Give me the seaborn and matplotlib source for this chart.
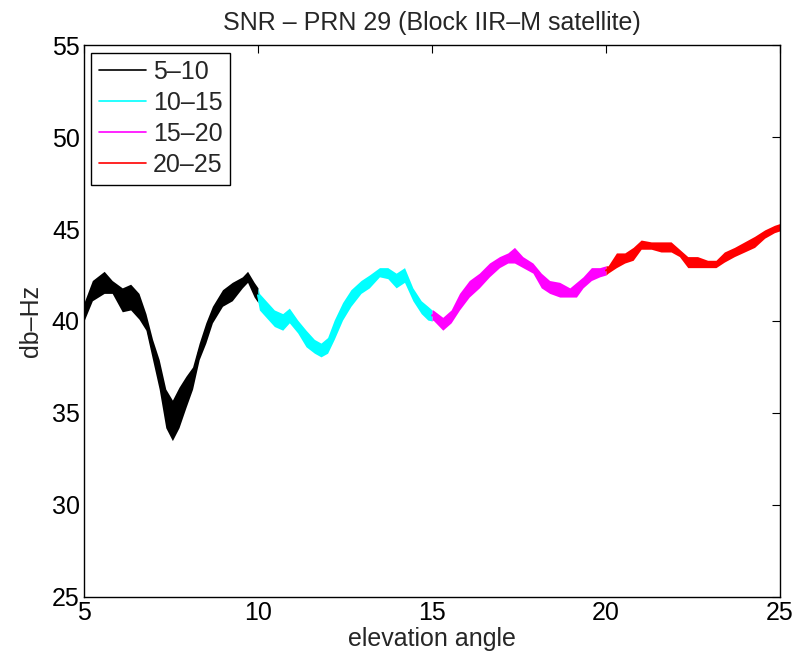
import pandas as pd
import matplotlib
matplotlib.use('Agg')
import matplotlib.pyplot as plt
from matplotlib.lines import Line2D
import seaborn as sns

# SNR envelopes (lower / upper edge of the noisy trace)
x_5_10 = [5.00, 5.24, 5.58, 5.81, 6.10, 6.34, 6.58, 6.78, 6.97, 7.16, 7.35, 7.54,
          7.73, 7.93, 8.12, 8.31, 8.50, 8.69, 8.98, 9.26, 9.55, 9.70, 9.89, 10.00]
lo_5_10 = [40.0, 41.1, 41.5, 41.5, 40.5, 40.6, 40.1, 39.5, 37.9, 36.3, 34.2, 33.5,
           34.2, 35.3, 36.3, 37.9, 38.8, 39.9, 40.8, 41.1, 41.8, 42.1, 41.3, 41.0]
hi_5_10 = [41.0, 42.2, 42.7, 42.2, 41.8, 42.0, 41.5, 40.4, 39.0, 37.9, 36.3, 35.7,
           36.4, 37.0, 37.5, 38.8, 39.9, 40.8, 41.7, 42.1, 42.4, 42.7, 42.1, 41.8]

x_10_15 = [10.00, 10.04, 10.23, 10.47, 10.71, 10.90, 11.14, 11.38, 11.62, 11.81, 12.00, 12.19,
           12.43, 12.67, 12.96, 13.20, 13.49, 13.73, 13.97, 14.21, 14.45, 14.69, 14.88, 15.00]
lo_10_15 = [41.0, 40.6, 40.2, 39.7, 39.5, 39.9, 39.35, 38.6, 38.25, 38.05, 38.25, 39.0,
            40.05, 40.8, 41.5, 41.8, 42.4, 42.3, 41.8, 42.1, 41.1, 40.4, 40.05, 40.0]
hi_10_15 = [41.8, 41.5, 41.1, 40.6, 40.4, 40.7, 40.05, 39.5, 39.0, 38.8, 39.1, 40.05,
            41.0, 41.7, 42.2, 42.5, 42.9, 42.9, 42.6, 42.9, 41.8, 41.1, 40.8, 40.6]

x_15_20 = [15.00, 15.03, 15.31, 15.55, 15.79, 16.07, 16.36, 16.65, 16.94, 17.18, 17.37,
           17.61, 17.90, 18.14, 18.38, 18.67, 18.96, 19.15, 19.34, 19.58, 19.82, 20.00]
lo_15_20 = [40.0, 40.05, 39.5, 39.9, 40.6, 41.3, 41.8, 42.4, 42.9, 43.15, 43.15,
            42.9, 42.6, 41.8, 41.5, 41.3, 41.3, 41.3, 41.8, 42.2, 42.4, 42.5]
hi_15_20 = [40.6, 40.6, 40.2, 40.6, 41.5, 42.2, 42.6, 43.15, 43.5, 43.7, 44.0,
            43.5, 43.15, 42.6, 42.2, 42.1, 41.8, 42.1, 42.4, 42.9, 42.9, 43.0]

x_20_25 = [20.00, 20.06, 20.30, 20.54, 20.78, 21.01, 21.30, 21.58, 21.87, 22.11, 22.35,
           22.63, 22.92, 23.16, 23.40, 23.69, 23.98, 24.27, 24.56, 24.84, 25.00]
lo_20_25 = [42.5, 42.6, 42.9, 43.15, 43.3, 43.9, 43.9, 43.75, 43.75, 43.5, 42.9,
            42.9, 42.9, 42.9, 43.2, 43.5, 43.75, 44.0, 44.5, 44.8, 44.9]
hi_20_25 = [43.0, 43.0, 43.7, 43.7, 44.0, 44.4, 44.3, 44.3, 44.3, 43.9, 43.5,
            43.5, 43.3, 43.3, 43.75, 44.0, 44.3, 44.6, 44.95, 45.2, 45.3]

labels = ['5–10', '10–15', '15–20', '20–25']
colors = ['#000000', '#00ffff', '#ff00ff', '#ff0000']

segments = [(x_5_10, lo_5_10, hi_5_10), (x_10_15, lo_10_15, hi_10_15),
            (x_15_20, lo_15_20, hi_15_20), (x_20_25, lo_20_25, hi_20_25)]

rows = []
for lab, (xs, los, his) in zip(labels, segments):
    for x, lo, hi in zip(xs, los, his):
        rows.append({'angle': x, 'snr': lo, 'range': lab})
        rows.append({'angle': x, 'snr': hi, 'range': lab})
df = pd.DataFrame(rows)

sns.set_style('white')
plt.rcParams['font.family'] = ['Liberation Sans', 'DejaVu Sans']
fs = 18

fig = plt.figure(figsize=(8.12, 6.56), dpi=100)
ax = fig.add_axes([84 / 812, 1 - 597 / 656, 696 / 812, 552 / 656])

# band = min..max of the noisy trace, line = its middle
sns.lineplot(data=df, x='angle', y='snr', hue='range', hue_order=labels,
             palette=colors, estimator='mean', errorbar=('pi', 100),
             err_kws={'alpha': 1, 'linewidth': 0}, linewidth=1.5, legend=False, ax=ax)

ax.set_xlim(5, 25)
ax.set_ylim(25, 55)
ax.set_xticks([5, 10, 15, 20, 25])
ax.set_yticks([25, 30, 35, 40, 45, 50, 55])
ax.tick_params(direction='in', length=6, width=0.8, labelsize=fs, colors='black',
               top=True, right=True, pad=3)
for s in ax.spines.values():
    s.set_color('black')
    s.set_linewidth(1)

ax.set_xlabel('elevation angle', fontsize=fs, labelpad=1)
ax.set_ylabel('db–Hz', fontsize=fs, labelpad=6)
ax.set_title('SNR – PRN 29 (Block IIR–M satellite)', fontsize=fs, pad=11)

handles = [Line2D([0], [0], color=c, lw=1.2) for c in colors]
leg = ax.legend(handles, labels, loc='upper left', fontsize=fs, frameon=True,
                fancybox=False, edgecolor='black', framealpha=1,
                handlelength=1.9, handletextpad=0.25, borderaxespad=0.3,
                borderpad=0.3, labelspacing=0.28)
leg.get_frame().set_linewidth(1)

fig.savefig('out.png', dpi=100, facecolor='white')
